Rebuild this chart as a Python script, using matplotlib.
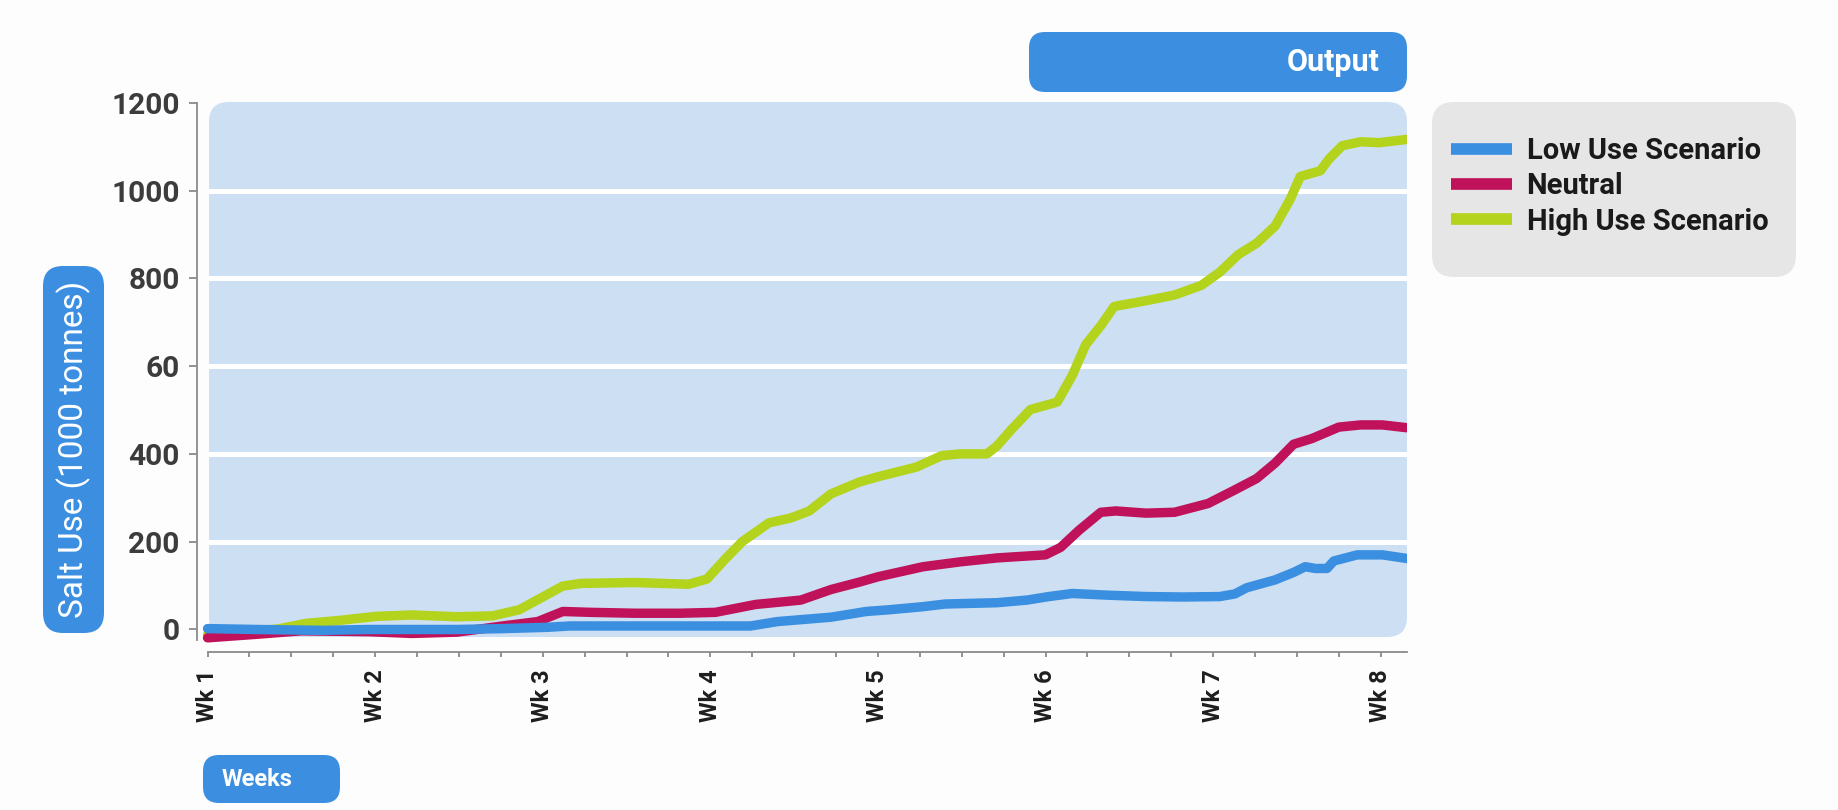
import numpy as np
import matplotlib
matplotlib.use('Agg')
import matplotlib.pyplot as plt
from matplotlib import font_manager
from matplotlib.patches import FancyBboxPatch


# Salt use per scenario (1000 tonnes), x is position in weeks
low_weeks = [1.00, 1.29, 1.69, 1.96, 2.22, 2.49, 2.76, 3.03, 3.16, 3.55, 3.82, 4.24, 4.40, 4.72,
             4.93, 5.07, 5.27, 5.40, 5.71, 5.89, 6.02, 6.16, 6.38, 6.60, 6.82, 7.04, 7.13, 7.20,
             7.37, 7.48, 7.55, 7.61, 7.68, 7.72, 7.86, 8.01, 8.17]
low_use = [2, 0, -2, 0, 0, 0, 2, 5, 8, 8, 8, 8, 18, 28,
           41, 45, 52, 58, 61, 67, 75, 82, 78, 75, 74, 75, 81, 95,
           113, 130, 143, 139, 139, 156, 170, 170, 161]

neutral_weeks = [1.00, 1.29, 1.56, 1.96, 2.22, 2.49, 2.76, 2.97, 3.12, 3.29, 3.55, 3.82, 4.03,
                 4.27, 4.54, 4.72, 4.89, 5.00, 5.27, 5.49, 5.71, 6.00, 6.09, 6.20, 6.33, 6.42,
                 6.60, 6.77, 6.97, 7.13, 7.26, 7.37, 7.48, 7.59, 7.75, 7.88, 8.01, 8.17]
neutral_use = [-19, -11, -3, -5, -9, -6, 8, 18, 41, 39, 37, 37, 39,
               57, 67, 91, 108, 120, 143, 154, 163, 170, 187, 226, 267, 270,
               265, 267, 287, 318, 344, 379, 422, 435, 461, 466, 466, 459]

high_weeks = [1.00, 1.21, 1.43, 1.59, 1.77, 2.01, 2.22, 2.49, 2.70, 2.86, 2.99, 3.12, 3.23,
              3.55, 3.87, 3.98, 4.09, 4.19, 4.35, 4.48, 4.59, 4.72, 4.89, 5.00, 5.23, 5.38,
              5.49, 5.65, 5.71, 5.80, 5.91, 6.07, 6.16, 6.24, 6.33, 6.41, 6.60, 6.77, 6.93,
              7.04, 7.15, 7.26, 7.37, 7.46, 7.52, 7.64, 7.69, 7.77, 7.88, 7.99, 8.17]
high_use = [-12, -8, 2, 14, 20, 30, 33, 29, 31, 45, 72, 99, 105,
            107, 103, 115, 161, 200, 243, 254, 270, 309, 336, 348, 370, 396,
            400, 400, 418, 457, 501, 518, 579, 649, 692, 736, 749, 762, 784,
            814, 854, 880, 919, 980, 1032, 1045, 1071, 1102, 1111, 1109, 1117]

series_names = ['Low Use Scenario', 'Neutral', 'High Use Scenario']
series_colors = ['#3a8fe0', '#c0125a', '#b3d31c']

y_ticks = [0, 200, 400, 600, 800, 1000, 1200]
y_tick_labels = ['0', '200', '400', '60', '800', '1000', '1200']
week_ticks = [1, 2, 3, 4, 5, 6, 7, 8]
week_labels = ['Wk 1', 'Wk 2', 'Wk 3', 'Wk 4', 'Wk 5', 'Wk 6', 'Wk 7', 'Wk 8']


def pick_font(names):
    for name in names:
        try:
            font_manager.findfont(font_manager.FontProperties(family=name),
                                  fallback_to_default=False)
            return name
        except ValueError:
            continue
    return 'DejaVu Sans'


FONT = pick_font(['Roboto', 'DejaVu Sans'])
plt.rcParams['font.family'] = [FONT, 'DejaVu Sans']

W, H = 1838, 810
BLUE_BOX = '#3b8ee0'
fig = plt.figure(figsize=(W / 100, H / 100), dpi=100, facecolor='#fdfdfd')


def px(x, y):
    # pixel position from the top left corner -> inches for dpi_scale_trans
    return x / 100, (H - y) / 100


def rbox(x0, y0, x1, y1, color, r=18, z=1):
    p = FancyBboxPatch(px(x0, y1), (x1 - x0) / 100, (y1 - y0) / 100,
                       boxstyle=f'round,pad=0,rounding_size={r / 100}',
                       transform=fig.dpi_scale_trans, fc=color, ec='none', zorder=z)
    fig.add_artist(p)
    return p


# plotting area
ax = fig.add_axes([197 / W, 1 - 652 / H, (1407 - 197) / W, (652 - 101) / H])
ax.patch.set_visible(False)
ax.set_xlim(0.937, 8.157)
ax.set_ylim(-51.3, 1203.9)

rbox(209, 102, 1407, 637, '#cddff3', r=20, z=-1)

for v in y_ticks[1:-1]:
    ax.axhline(v, xmin=12 / 1210, xmax=1, color='white', lw=3.6, zorder=1)

lines = {}
for name, wk, vals, col in [(series_names[2], high_weeks, high_use, series_colors[2]),
                            (series_names[1], neutral_weeks, neutral_use, series_colors[1]),
                            (series_names[0], low_weeks, low_use, series_colors[0])]:
    lines[name], = ax.plot(wk, vals, color=col, lw=6.8, solid_capstyle='round',
                           solid_joinstyle='round', zorder=3)

for s in ['top', 'right']:
    ax.spines[s].set_visible(False)
for s in ['left', 'bottom']:
    ax.spines[s].set_color('#8a8a8a')
    ax.spines[s].set_linewidth(1.3)
ax.spines['left'].set_bounds(-25, 1200)
ax.spines['bottom'].set_bounds(1, 8.157)

ax.set_yticks(y_ticks, y_tick_labels)
ax.tick_params(axis='y', length=5.5, width=1.3, color='#8a8a8a', pad=7,
               labelsize=21.5, labelcolor='#3c3c3c')
for t in ax.get_yticklabels():
    t.set_fontweight('bold')

ax.set_xticks(week_ticks, week_labels, rotation=90)
ax.set_xticks([w for w in np.arange(1, 8.01, 0.25) if w not in week_ticks], minor=True)
ax.tick_params(axis='x', which='both', length=3.5, width=1.3, color='#8a8a8a')
ax.tick_params(axis='x', which='major', pad=9, labelsize=17, labelcolor='#1e1e1e')
for t in ax.get_xticklabels():
    t.set_fontweight('bold')

# axis title boxes
rbox(43, 266, 104, 633, BLUE_BOX, r=20)
fig.text(*px(74, 449), 'Salt Use (1000 tonnes)', transform=fig.dpi_scale_trans,
         rotation=90, ha='center', va='center', color='white', fontsize=24)

rbox(1029, 32, 1407, 92, BLUE_BOX, r=16)
fig.text(*px(1380, 62), 'Output', transform=fig.dpi_scale_trans,
         ha='right', va='center', color='white', fontsize=22, fontweight='bold')

rbox(203, 755, 340, 803, BLUE_BOX, r=16)
fig.text(*px(222, 780), 'Weeks', transform=fig.dpi_scale_trans,
         ha='left', va='center', color='white', fontsize=17, fontweight='bold')

# legend on a grey rounded panel (panel kept behind the axes layer)
rbox(1432, 102, 1796, 277, '#e6e6e6', r=22, z=-1)
leg = ax.legend([lines[n] for n in series_names], series_names, loc='upper left',
                bbox_to_anchor=px(1451, 137), bbox_transform=fig.dpi_scale_trans,
                frameon=False, borderpad=0, borderaxespad=0, handlelength=2.09,
                handletextpad=0.5, labelspacing=0.25,
                prop={'size': 21, 'weight': 'bold'})
for h in leg.legend_handles:
    h.set_linewidth(8.4)
    h.set_solid_capstyle('butt')
for t in leg.get_texts():
    t.set_color('#1a1a1a')

fig.savefig('out.png', dpi=100, facecolor=fig.get_facecolor())
